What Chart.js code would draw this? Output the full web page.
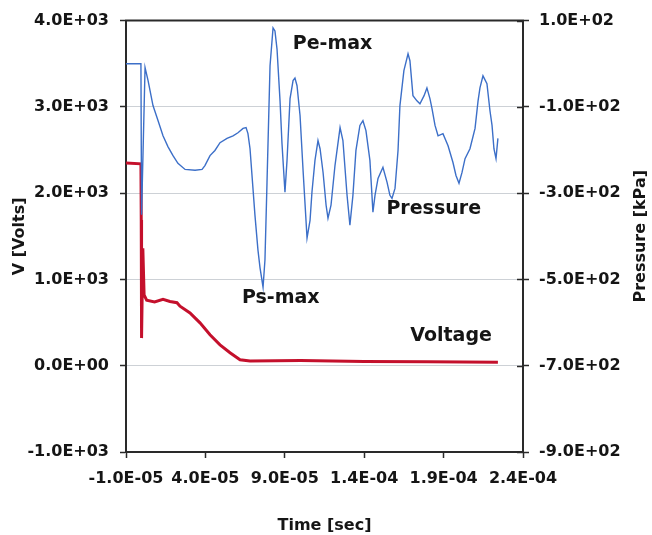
<!DOCTYPE html>
<html>
<head>
<meta charset="utf-8">
<script src="https://cdn.jsdelivr.net/npm/chart.js@4.4.1/dist/chart.umd.min.js"></script>
<style>
  html, body { margin: 0; padding: 0; background: #fff; }
  #wrap { width: 652px; height: 535px; }
</style>
</head>
<body>
<div id="wrap"><canvas id="chart" width="652" height="535"></canvas></div>
<script>
// Time values are in microseconds, converted to seconds when plotted
const pressureTime = [-10, -0.6, -0.2, 2.0, 3.9, 7.0, 10.2, 13.3, 16.4, 19.6,
    22.7, 27.2, 33.5, 37.9, 39.7, 42.9, 46.0, 49.2, 53.6, 57.4,
    60.5, 63.7, 65.6, 66.8, 68.1, 71.2, 73.1, 74.4, 76.3, 77.5,
    78.8, 80.7, 82.6, 83.8, 85.1, 87.0, 88.2, 90.1, 91.4, 93.3,
    95.2, 96.4, 97.7, 99.6, 101.5, 104.0, 105.9, 107.1, 109.0, 110.9,
    112.2, 114.1, 116.0, 117.2, 119.1, 121.6, 124.8, 126.6, 129.2, 131.0,
    132.9, 134.8, 137.3, 139.2, 141.1, 143.6, 145.5, 146.8, 148.7, 151.8,
    154.4, 156.2, 157.5, 159.4, 161.3, 162.5, 165.0, 167.6, 168.8, 170.7,
    173.2, 175.1, 177.7, 179.5, 181.4, 182.7, 184.6, 186.5, 189.6, 192.8,
    195.9, 197.8, 199.7, 201.6, 203.5, 206.6, 209.8, 211.7, 212.9, 214.8,
    217.3, 219.2, 220.5, 221.7, 223.0, 224.2];
const pressureKPa = [0, 0, -350, -9, -39, -97, -132, -167, -192, -213,
    -231, -245, -247, -245, -236, -213, -201, -183, -173, -167,
    -160, -150, -148, -162, -197, -351, -432, -473, -518, -455,
    -275, -5, 83, 76, 34, -86, -183, -298, -224, -81,
    -39, -33, -51, -120, -247, -404, -363, -298, -224, -178,
    -197, -252, -328, -358, -328, -236, -148, -178, -305, -374,
    -305, -201, -143, -132, -155, -224, -344, -305, -266, -240,
    -275, -305, -312, -289, -201, -97, -16, 23, 7, -74,
    -86, -93, -74, -56, -81, -104, -143, -167, -162, -190,
    -229, -259, -277, -252, -220, -197, -150, -86, -56, -28,
    -46, -109, -143, -197, -220, -173];

const voltageTime = [-10, -0.6, -0.4, -0.2, 0.6, 1.4, 3.0, 8.0, 13.3, 17.7,
    22.1, 24.0, 30.3, 36.6, 42.9, 49.2, 55.5, 61.8, 68.1, 100,
    140, 180, 224.2];
const voltageV = [2350, 2340, 1690, 320, 1360, 820, 760, 740, 770, 745,
    730, 690, 612, 497, 358, 242, 150, 69, 55, 60,
    50, 45, 40];

const timeTicks = [-1.0e-5, 4.0e-5, 9.0e-5, 1.4e-4, 1.9e-4, 2.4e-4];
const voltTicks = [-1000, 0, 1000, 2000, 3000, 4000];
const pressureTicks = [-900, -700, -500, -300, -100, 100];

// Callouts, placed in time (us) / volt coordinates
const callouts = [
    { text: 'Pe-max', t: 95, v: 3730 },
    { text: 'Pressure', t: 154, v: 1813 },
    { text: 'Ps-max', t: 63, v: 785 },
    { text: 'Voltage', t: 169, v: 346 }
];

const FONT = 'DejaVu Sans';
const INK = '#151515';
const AXIS = '#2a2a2a';

function sci(v) {
    const parts = Number(v).toExponential(1).split('e');
    const e = parseInt(parts[1], 10);
    return parts[0] + 'E' + (e < 0 ? '-' : '+') + String(Math.abs(e)).padStart(2, '0');
}

const framePlugin = {
    id: 'frame',
    afterDraw(chart) {
        const { ctx, chartArea, scales } = chart;
        ctx.save();
        // top border
        ctx.strokeStyle = AXIS;
        ctx.lineWidth = 2;
        ctx.beginPath();
        ctx.moveTo(chartArea.left - 1, chartArea.top);
        ctx.lineTo(chartArea.right + 1, chartArea.top);
        ctx.stroke();
        // inner half of the right axis ticks
        ctx.lineWidth = 1.5;
        pressureTicks.forEach(p => {
            const y = Math.round(scales.y2.getPixelForValue(p)) + 0.5;
            ctx.beginPath();
            ctx.moveTo(chartArea.right - 6, y);
            ctx.lineTo(chartArea.right, y);
            ctx.stroke();
        });
        // right axis title, reading upwards
        ctx.fillStyle = INK;
        ctx.font = 'bold 16px "' + FONT + '"';
        ctx.textAlign = 'center';
        ctx.textBaseline = 'middle';
        ctx.translate(641, (chartArea.top + chartArea.bottom) / 2);
        ctx.rotate(-Math.PI / 2);
        ctx.fillText('Pressure [kPa]', 0, 0);
        ctx.restore();

        // callouts
        ctx.save();
        ctx.fillStyle = INK;
        ctx.font = 'bold 19px "' + FONT + '"';
        ctx.textAlign = 'left';
        ctx.textBaseline = 'middle';
        callouts.forEach(c => {
            ctx.fillText(c.text, scales.x.getPixelForValue(c.t * 1e-6), scales.y.getPixelForValue(c.v));
        });
        ctx.restore();
    }
};

const tickFont = { family: FONT, size: 16, weight: 'bold' };

new Chart(document.getElementById('chart'), {
    type: 'line',
    data: {
        datasets: [
            {
                label: 'Pressure',
                data: pressureTime.map((t, i) => ({ x: t * 1e-6, y: pressureKPa[i] })),
                yAxisID: 'y2',
                borderColor: '#3c6fc8',
                borderWidth: 1.4,
                pointRadius: 0,
                tension: 0
            },
            {
                label: 'Voltage',
                data: voltageTime.map((t, i) => ({ x: t * 1e-6, y: voltageV[i] })),
                yAxisID: 'y',
                borderColor: '#c4102c',
                borderWidth: 3,
                pointRadius: 0,
                tension: 0
            }
        ]
    },
    options: {
        responsive: false,
        animation: false,
        layout: { padding: { top: 19, left: 0, right: 0, bottom: 0 } },
        plugins: {
            legend: { display: false },
            tooltip: { enabled: false }
        },
        scales: {
            x: {
                type: 'linear',
                min: -1.0e-5,
                max: 2.4e-4,
                afterBuildTicks: s => { s.ticks = timeTicks.map(v => ({ value: v })); },
                afterFit: s => { s.height = 83; },
                grid: { drawOnChartArea: false, tickLength: 6, tickColor: AXIS, tickWidth: 1.5 },
                border: { color: AXIS, width: 2 },
                ticks: { font: tickFont, color: INK, padding: 11, maxRotation: 0, callback: v => sci(v) },
                title: { display: true, text: 'Time [sec]', font: tickFont, color: INK, padding: { top: 0, bottom: 0 } }
            },
            y: {
                position: 'left',
                min: -1000,
                max: 4000,
                afterBuildTicks: s => { s.ticks = voltTicks.map(v => ({ value: v })); },
                afterFit: s => { s.width = 126; },
                grid: { color: '#cdd1d6', lineWidth: 1, tickLength: 6, tickColor: AXIS, tickWidth: 1.5 },
                border: { color: AXIS, width: 2 },
                ticks: { font: tickFont, color: INK, padding: 11, callback: v => sci(v) },
                title: { display: true, text: 'V [Volts]', font: tickFont, color: INK, padding: { top: 10, bottom: 0 } }
            },
            y2: {
                position: 'right',
                min: -900,
                max: 100,
                afterBuildTicks: s => { s.ticks = pressureTicks.map(v => ({ value: v })); },
                afterFit: s => { s.width = 129; },
                grid: { drawOnChartArea: false, tickLength: 6, tickColor: AXIS, tickWidth: 1.5 },
                border: { color: AXIS, width: 2 },
                ticks: { font: tickFont, color: INK, padding: 10, callback: v => sci(v) }
            }
        }
    },
    plugins: [framePlugin]
});
</script>
</body>
</html>
